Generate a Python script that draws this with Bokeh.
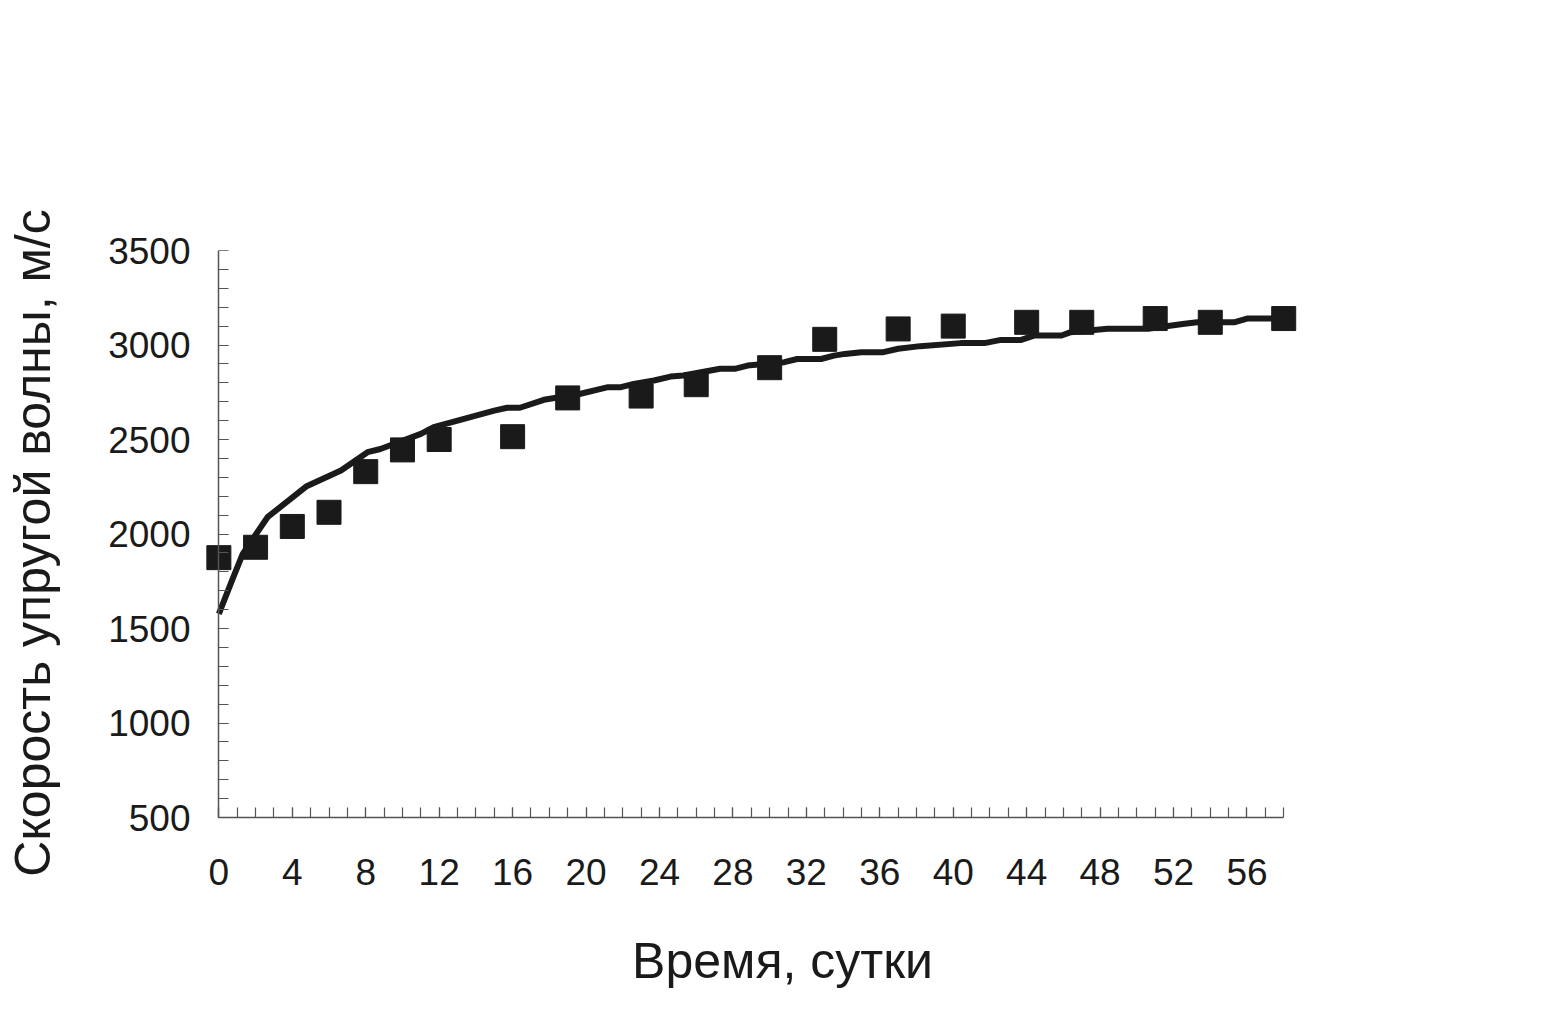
from bokeh.plotting import figure
from bokeh.models import FixedTicker, Range1d, LinearAxis
from bokeh.embed import file_html
from bokeh.resources import INLINE

# measured points (days, m/s)
days = [0, 2, 4, 6, 8, 10, 12, 16, 19, 23, 26, 30, 33, 37, 40, 44, 47, 51, 54, 58]
velocity = [1875, 1930, 2040, 2115, 2330, 2445, 2500, 2515, 2720, 2730,
            2790, 2880, 3030, 3085, 3100, 3120, 3120, 3140, 3120, 3140]

# model curve
fit_days = [0, 0.75, 1.3, 2.65, 4.75, 6.65, 8.1, 8.8, 11, 11.7, 15, 15.7, 16.4,
            17.7, 19.7, 21.2, 21.9, 22.6, 23.7, 24.6, 25.3, 27.3, 28.1, 28.8,
            30.8, 31.5, 32.8, 33.5, 34.1, 35, 36.2, 37, 38.2, 40.4, 41.7, 42.6,
            43.7, 44.4, 45.9, 46.4, 48.4, 50.6, 52.6, 53.3, 55.3, 56, 57.5, 58]
fit_velocity = [1578, 1763, 1895, 2089, 2251, 2336, 2433, 2450, 2530, 2565, 2653,
                2668, 2668, 2710, 2742, 2777, 2777, 2794, 2812, 2833, 2839, 2874,
                2874, 2891, 2909, 2926, 2926, 2944, 2953, 2962, 2962, 2980, 2994,
                3010, 3010, 3027, 3027, 3050, 3050, 3068, 3086, 3086, 3112, 3120,
                3120, 3140, 3140, 3140]

x_major = list(range(0, 57, 4))
x_minor = list(range(0, 59, 1))
y_major = [500, 1000, 1500, 2000, 2500, 3000, 3500]
y_minor = list(range(500, 3501, 100))

x_title = "Время, сутки"
y_title = "Скорость упругой волны, м/с"

FONT = "Liberation Sans"
INK = "#1a1a1a"
AXIS = "#555555"

p = figure(width=1549, height=1015, output_backend="svg", toolbar_location=None,
           x_range=Range1d(-1, 62.4), y_range=Range1d(405, 3500),
           min_border_left=200, min_border_right=185,
           min_border_top=250, min_border_bottom=180)
p.outline_line_color = None
p.grid.visible = False
p.background_fill_color = "white"
p.border_fill_color = "white"

p.line(fit_days, fit_velocity, line_color=INK, line_width=6, line_join="round")
p.scatter(days, velocity, marker="square", size=24, fill_color=INK, line_color=INK)


def style_rule(ax):
    ax.axis_line_color = AXIS
    ax.axis_line_width = 1.5
    ax.major_tick_line_color = AXIS
    ax.minor_tick_line_color = AXIS
    ax.major_tick_line_width = 1.2
    ax.minor_tick_line_width = 1.2
    ax.major_tick_in = 10
    ax.major_tick_out = 0
    ax.minor_tick_in = 10
    ax.minor_tick_out = 0
    ax.major_label_text_alpha = 0
    ax.major_label_text_font_size = "1px"


def style_labels(ax, ticks, minor, standoff, title, title_standoff):
    ax.ticker = FixedTicker(ticks=ticks, minor_ticks=minor)
    ax.axis_line_color = None
    ax.major_tick_line_color = None
    ax.minor_tick_line_color = None
    ax.major_tick_in = 0
    ax.major_tick_out = 0
    ax.minor_tick_in = 0
    ax.minor_tick_out = 0
    ax.major_label_text_font = FONT
    ax.major_label_text_font_size = "37px"
    ax.major_label_text_color = INK
    ax.major_label_standoff = standoff
    ax.axis_label = title
    ax.axis_label_text_font = FONT
    ax.axis_label_text_font_size = "50px"
    ax.axis_label_text_font_style = "normal"
    ax.axis_label_text_color = INK
    ax.axis_label_standoff = title_standoff


# axes at the frame edges carry the tick labels and titles
style_labels(p.xaxis[0], x_major, x_minor, 23, x_title, 45)
style_labels(p.yaxis[0], y_major, y_minor, 10, y_title, 44)

# axis rules and ticks at day 0 and 500 m/s
xrule = LinearAxis(fixed_location=500, bounds=(0, 58),
                   ticker=FixedTicker(ticks=x_major, minor_ticks=x_minor))
style_rule(xrule)
p.add_layout(xrule, "below")

yrule = LinearAxis(fixed_location=0, bounds=(500, 3500),
                   ticker=FixedTicker(ticks=y_major, minor_ticks=y_minor))
style_rule(yrule)
p.add_layout(yrule, "left")

open("out.html", "w").write(file_html(p, INLINE))
